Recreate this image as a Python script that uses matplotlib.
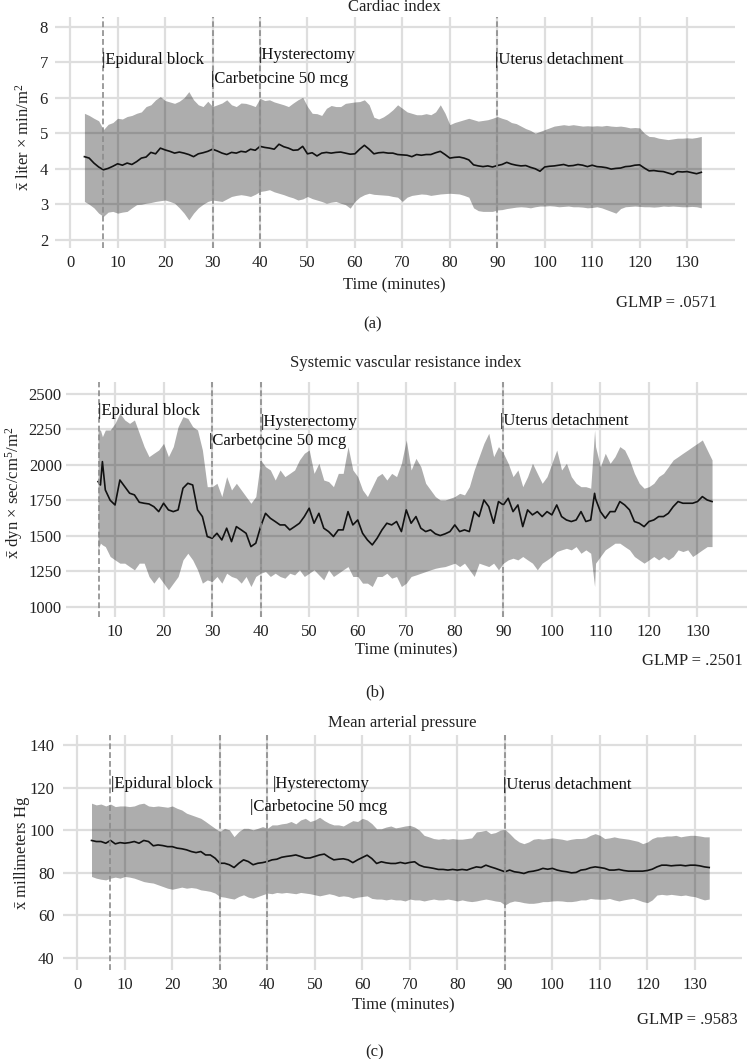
import numpy as np
import matplotlib
matplotlib.use("Agg")
import matplotlib.pyplot as plt

plt.rcParams['font.family'] = ['Liberation Serif', 'DejaVu Serif']
plt.rcParams['mathtext.fontset'] = 'custom'
plt.rcParams['mathtext.rm'] = 'Liberation Serif'
plt.rcParams['mathtext.it'] = 'Liberation Serif:italic'

# ---------------- data ----------------
# (a) cardiac index, one value per minute from 3 to 133
time_a = list(range(3, 134))
mean_a = [4.34, 4.30, 4.16, 4.05, 3.97, 4.01, 4.07, 4.14, 4.10, 4.16, 4.12, 4.20, 4.30, 4.33, 4.46, 4.42,
          4.58, 4.53, 4.49, 4.44, 4.47, 4.44, 4.40, 4.34, 4.42, 4.45, 4.49, 4.55, 4.50, 4.44, 4.40, 4.46,
          4.44, 4.49, 4.47, 4.55, 4.52, 4.63, 4.60, 4.58, 4.55, 4.69, 4.62, 4.58, 4.52, 4.53, 4.63, 4.42,
          4.45, 4.36, 4.44, 4.46, 4.44, 4.46, 4.47, 4.44, 4.41, 4.42, 4.55, 4.66, 4.55, 4.42, 4.45, 4.46,
          4.44, 4.44, 4.40, 4.39, 4.38, 4.34, 4.40, 4.38, 4.40, 4.40, 4.45, 4.49, 4.40, 4.30, 4.32, 4.33,
          4.30, 4.25, 4.11, 4.08, 4.06, 4.08, 4.05, 4.09, 4.12, 4.18, 4.13, 4.10, 4.08, 4.09, 4.04, 4.00,
          3.93, 4.05, 4.07, 4.08, 4.10, 4.12, 4.08, 4.09, 4.12, 4.10, 4.06, 4.10, 4.06, 4.05, 4.03, 3.99,
          4.01, 4.02, 4.06, 4.07, 4.10, 4.11, 4.02, 3.94, 3.95, 3.93, 3.92, 3.88, 3.84, 3.92, 3.91, 3.92,
          3.89, 3.86, 3.90]
upper_a = [5.56, 5.50, 5.42, 5.35, 5.10, 5.25, 5.30, 5.42, 5.40, 5.47, 5.50, 5.56, 5.60, 5.75, 5.80, 5.94,
           6.03, 5.92, 5.88, 5.84, 5.90, 6.00, 6.17, 5.94, 5.80, 5.75, 5.90, 5.75, 5.80, 5.85, 5.94, 5.80,
           5.75, 5.85, 5.84, 5.80, 5.75, 5.98, 5.92, 5.94, 5.88, 5.84, 5.80, 5.75, 5.85, 5.94, 6.01, 5.75,
           5.56, 5.55, 5.50, 5.70, 5.78, 5.75, 5.75, 5.84, 5.86, 5.88, 5.89, 5.94, 5.80, 5.45, 5.40, 5.46,
           5.55, 5.66, 5.80, 5.70, 5.60, 5.56, 5.52, 5.52, 5.55, 5.52, 5.60, 5.80, 5.56, 5.24, 5.30, 5.34,
           5.38, 5.42, 5.38, 5.34, 5.36, 5.38, 5.42, 5.47, 5.42, 5.38, 5.30, 5.27, 5.20, 5.13, 5.08, 5.00,
           5.05, 5.10, 5.15, 5.20, 5.22, 5.24, 5.22, 5.24, 5.22, 5.20, 5.21, 5.20, 5.21, 5.20, 5.22, 5.20,
           5.19, 5.20, 5.18, 5.15, 5.16, 5.15, 5.00, 4.91, 4.90, 4.86, 4.84, 4.82, 4.84, 4.86, 4.86, 4.87,
           4.86, 4.88, 4.91]
lower_a = [3.08, 3.00, 2.90, 2.75, 2.66, 2.78, 2.80, 2.75, 2.78, 2.80, 2.90, 2.99, 3.00, 3.03, 3.05, 3.08,
           3.10, 3.12, 3.08, 3.03, 2.90, 2.75, 2.56, 2.75, 2.90, 3.00, 3.08, 3.12, 3.10, 3.08, 3.15, 3.22,
           3.25, 3.27, 3.25, 3.22, 3.28, 3.36, 3.38, 3.41, 3.35, 3.31, 3.27, 3.22, 3.18, 3.12, 3.15, 3.22,
           3.16, 3.12, 3.08, 3.03, 3.06, 3.08, 3.03, 2.99, 2.89, 3.08, 3.20, 3.27, 3.31, 3.28, 3.27, 3.26,
           3.25, 3.22, 3.20, 3.08, 3.20, 3.25, 3.27, 3.29, 3.28, 3.25, 3.27, 3.29, 3.30, 3.31, 3.30, 3.29,
           3.25, 3.20, 2.90, 2.82, 2.80, 2.80, 2.80, 2.84, 2.85, 2.88, 2.90, 2.92, 2.93, 2.92, 2.90, 2.93,
           2.95, 2.95, 2.96, 2.95, 2.93, 2.94, 2.95, 2.93, 2.93, 2.92, 2.90, 2.91, 2.93, 2.90, 2.85, 2.80,
           2.75, 2.88, 2.93, 2.94, 2.95, 2.94, 2.93, 2.93, 2.92, 2.93, 2.95, 2.94, 2.95, 2.94, 2.93, 2.93,
           2.94, 2.93, 2.90]

# (b) systemic vascular resistance index
time_b = [6.5, 7.0, 7.4] + list(range(8, 109)) + [108.8] + list(range(109, 134))
mean_b = [1882, 1858, 2023, 1823, 1750, 1717, 1893, 1846, 1800, 1788, 1736, 1729, 1724, 1705, 1670, 1729,
          1682, 1670, 1682, 1835, 1870, 1858, 1682, 1635, 1494, 1482, 1517, 1470, 1553, 1458, 1564, 1541,
          1517, 1423, 1447, 1564, 1658, 1623, 1600, 1576, 1576, 1541, 1564, 1588, 1635, 1694, 1588, 1658,
          1553, 1529, 1494, 1541, 1541, 1670, 1576, 1611, 1517, 1470, 1435, 1482, 1541, 1588, 1576, 1600,
          1529, 1682, 1588, 1635, 1553, 1529, 1541, 1513, 1501, 1513, 1529, 1576, 1529, 1541, 1529, 1670,
          1635, 1752, 1705, 1588, 1741, 1717, 1764, 1670, 1717, 1564, 1682, 1647, 1670, 1635, 1670, 1647,
          1717, 1635, 1611, 1600, 1611, 1670, 1600, 1611, 1799, 1760, 1670, 1623, 1670, 1670, 1741, 1717,
          1682, 1600, 1588, 1564, 1600, 1611, 1635, 1635, 1658, 1705, 1741, 1729, 1729, 1729, 1741, 1776,
          1752, 1741]
upper_b = [2246, 2246, 2199, 2246, 2246, 2293, 2364, 2317, 2293, 2317, 2223, 2129, 2058, 2082, 2105, 2152,
           2058, 2129, 2270, 2340, 2328, 2270, 2246, 2105, 1846, 1846, 1870, 1776, 1917, 1823, 1870, 1823,
           1776, 1729, 1776, 2035, 1987, 1964, 1893, 1964, 1917, 1940, 1964, 2035, 2082, 2105, 1940, 2011,
           1893, 1882, 1846, 1940, 1940, 2129, 1964, 1917, 1823, 1776, 1846, 1917, 1940, 1893, 1940, 1917,
           2011, 2176, 1964, 2046, 1987, 1870, 1823, 1776, 1752, 1752, 1764, 1776, 1799, 1788, 1846, 1964,
           2058, 2152, 2223, 2058, 2129, 2082, 2011, 1917, 1964, 1846, 1917, 2011, 1940, 1870, 1917, 2011,
           2105, 1964, 2011, 1917, 1870, 1846, 1846, 1835, 2246, 2129, 1987, 2082, 2011, 2058, 2129, 2105,
           2035, 1940, 1870, 1835, 1846, 1870, 1917, 1940, 1987, 2035, 2058, 2082, 2105, 2129, 2152, 2176,
           2105, 2035]
lower_b = [1400, 1447, 1435, 1423, 1353, 1329, 1306, 1306, 1282, 1259, 1306, 1306, 1212, 1165, 1212, 1165,
           1118, 1165, 1212, 1329, 1376, 1329, 1259, 1165, 1188, 1176, 1212, 1165, 1235, 1212, 1200, 1165,
           1212, 1141, 1212, 1235, 1247, 1212, 1235, 1212, 1200, 1235, 1223, 1259, 1212, 1235, 1259, 1223,
           1188, 1259, 1212, 1235, 1259, 1282, 1212, 1212, 1165, 1165, 1141, 1212, 1212, 1235, 1200, 1212,
           1141, 1165, 1212, 1223, 1235, 1247, 1259, 1270, 1277, 1282, 1294, 1306, 1282, 1306, 1259, 1212,
           1306, 1294, 1282, 1306, 1259, 1306, 1329, 1341, 1329, 1353, 1329, 1306, 1259, 1306, 1329, 1353,
           1388, 1400, 1411, 1400, 1423, 1376, 1400, 1376, 1141, 1306, 1353, 1400, 1423, 1447, 1447, 1423,
           1400, 1353, 1329, 1306, 1329, 1353, 1329, 1353, 1329, 1353, 1400, 1388, 1400, 1353, 1376, 1400,
           1423, 1423]

# (c) mean arterial pressure, one value per minute from 3 to 133
time_c = list(range(3, 134))
mean_c = [95.2, 94.7, 94.7, 93.9, 95.2, 93.6, 94.2, 93.9, 94.2, 94.7, 93.9, 95.2, 94.7, 92.7, 93.1, 92.8,
          92.3, 92.3, 91.6, 91.3, 90.8, 90.0, 89.5, 90.0, 88.4, 88.4, 86.9, 84.5, 84.5, 83.8, 82.5, 84.5,
          86.1, 85.3, 83.8, 84.5, 84.8, 85.3, 86.1, 86.4, 87.3, 87.7, 88.0, 88.4, 87.7, 86.9, 87.0, 87.7,
          88.4, 88.8, 87.3, 86.1, 86.4, 86.6, 86.1, 84.8, 86.1, 87.2, 88.3, 86.7, 84.4, 85.2, 84.7, 84.4,
          84.4, 84.9, 84.4, 84.9, 85.2, 83.6, 82.8, 82.5, 82.1, 81.6, 81.6, 81.3, 81.6, 81.3, 81.6, 81.3,
          82.1, 82.8, 82.5, 83.6, 82.8, 82.1, 81.3, 80.5, 81.3, 80.5, 80.2, 79.7, 80.5, 80.8, 81.3, 82.1,
          81.7, 82.1, 81.3, 80.8, 80.5, 80.0, 80.2, 81.3, 81.6, 82.4, 82.8, 82.5, 82.1, 81.3, 81.3, 81.6,
          81.1, 80.8, 80.8, 80.8, 80.8, 81.1, 81.7, 82.8, 83.6, 83.6, 83.3, 83.5, 83.6, 83.3, 83.6, 83.6,
          83.3, 82.8, 82.5]
upper_c = [112.7, 111.9, 112.3, 111.4, 112.3, 111.1, 111.4, 111.4, 111.1, 111.4, 112.3, 112.7, 111.4, 111.1,
           111.4, 111.1, 110.8, 111.4, 110.3, 109.5, 108.0, 107.2, 106.4, 105.6, 104.1, 102.5, 100.9, 99.4,
           100.9, 100.2, 97.0, 99.4, 100.9, 100.9, 100.2, 100.9, 101.7, 100.9, 102.5, 102.5, 103.0, 103.3,
           104.1, 103.0, 104.8, 105.6, 104.1, 104.8, 106.1, 104.5, 103.3, 102.5, 102.5, 102.0, 103.3, 104.5,
           104.1, 105.6, 104.8, 103.1, 100.7, 100.7, 101.5, 102.0, 101.1, 101.5, 102.0, 102.3, 101.5, 100.0,
           97.6, 96.9, 96.1, 95.8, 96.1, 95.8, 96.1, 95.8, 95.8, 96.1, 96.4, 99.2, 99.5, 100.0, 98.4, 98.9,
           100.0, 100.4, 98.4, 96.1, 94.5, 93.7, 94.5, 95.8, 96.1, 95.8, 96.1, 96.4, 96.1, 95.8, 95.3, 95.8,
           96.1, 96.1, 96.4, 97.6, 98.4, 97.6, 96.1, 96.4, 96.9, 96.4, 96.1, 95.8, 95.3, 94.8, 93.7, 94.5,
           96.1, 96.9, 96.9, 97.3, 97.3, 97.6, 96.9, 97.3, 97.6, 97.6, 97.3, 96.9, 96.9]
lower_c = [78.3, 77.5, 77.0, 76.7, 77.5, 78.0, 77.5, 78.3, 78.0, 77.5, 76.7, 75.9, 75.5, 75.2, 74.4, 73.6,
           72.8, 72.3, 72.8, 73.3, 72.8, 73.1, 72.8, 72.0, 71.7, 71.3, 70.5, 68.9, 68.6, 68.1, 67.7, 68.9,
           69.7, 68.6, 68.1, 68.9, 69.7, 70.5, 70.2, 70.8, 70.5, 70.8, 70.5, 70.2, 70.8, 70.5, 70.2, 69.7,
           69.2, 69.7, 70.2, 69.7, 68.9, 69.2, 68.9, 68.1, 68.6, 68.9, 69.2, 68.0, 67.7, 67.7, 67.3, 67.7,
           67.3, 67.3, 66.8, 67.7, 67.3, 67.3, 66.8, 67.3, 67.7, 67.3, 67.3, 67.7, 67.3, 66.8, 67.3, 66.8,
           66.5, 66.8, 67.3, 67.7, 67.3, 66.8, 66.5, 64.9, 66.2, 66.8, 66.5, 66.0, 65.7, 65.7, 66.0, 66.5,
           66.5, 66.8, 66.9, 66.8, 66.5, 66.5, 66.8, 67.3, 67.3, 68.0, 67.7, 67.6, 67.6, 68.0, 67.3, 66.8,
           67.3, 67.7, 68.0, 67.3, 66.5, 66.0, 67.3, 69.6, 69.9, 69.6, 69.9, 69.6, 69.3, 69.6, 69.1, 68.8,
           68.0, 67.3, 67.7]

event_names = ["Epidural block", "Carbetocine 50 mcg", "Hysterectomy", "Uterus detachment"]
titles = ["Cardiac index", "Systemic vascular resistance index", "Mean arterial pressure"]
glmp = ["GLMP = .0571", "GLMP = .2501", "GLMP = .9583"]
panel_tags = ["(a)", "(b)", "(c)"]

# ---------------- layout (pixels of a 747x1059 picture) ----------------
W, H = 747, 1059
FS = 12
fig = plt.figure(figsize=(W / 100, H / 100), dpi=100)


def box(l, t, r, b):
    return [l / W, 1 - b / H, (r - l) / W, (b - t) / H]


def ftext(px, py, s, **kw):
    fig.text(px / W, 1 - py / H, s, fontsize=FS, **kw)


panels = [
    dict(t=time_a, m=mean_a, u=upper_a, lo=lower_a, box=(55, 17, 735, 248),
         xlim=(-3.2, 140.1), ylim=(1.77, 8.27), xt=range(0, 131, 10), yt=range(2, 9), ypad=5,
         lines=[7.0, 30, 40, 90],
         labels=[(6.6, 7.05), (29.6, 6.52), (39.7, 7.2), (89.6, 7.05)],
         ylab=r'$\bar{\mathrm{x}}$ liter × min/m$^2$', ylab_xy=(24, 137),
         title_xy=(394, 7), xlab_xy=(394, 285), glmp_xy=(717, 303), tag_xy=(373, 324)),
    dict(t=time_b, m=mean_b, u=upper_b, lo=lower_b, box=(66, 382, 747, 617),
         xlim=(-0.1, 140.2), ylim=(926, 2585), xt=range(10, 131, 10), yt=range(1000, 2501, 250), ypad=3,
         lines=[6.7, 30, 40, 90],
         labels=[(6.5, 2380), (29.3, 2169), (40.1, 2303), (89.4, 2310)],
         ylab=r'$\bar{\mathrm{x}}$ dyn × sec/cm$^5$/m$^2$', ylab_xy=(14, 493),
         title_xy=(406, 363), xlab_xy=(406, 650), glmp_xy=(743, 661), tag_xy=(375, 692)),
    dict(t=time_c, m=mean_c, u=upper_c, lo=lower_c, box=(63, 735, 742, 970),
         xlim=(-3.0, 139.9), ylim=(34.4, 144.7), xt=range(0, 131, 10), yt=range(40, 141, 20), ypad=6,
         lines=[6.9, 30, 40, 90],
         labels=[(7.2, 121.8), (36.4, 111.1), (41.2, 121.8), (89.6, 121.3)],
         ylab=r'$\bar{\mathrm{x}}$ millimeters Hg', ylab_xy=(22, 853),
         title_xy=(402, 723), xlab_xy=(403, 1005), glmp_xy=(738, 1020), tag_xy=(375, 1052)),
]

for i, p in enumerate(panels):
    ax = fig.add_axes(box(*p['box']))
    ax.set_xlim(*p['xlim'])
    ax.set_ylim(*p['ylim'])
    ax.set_xticks(list(p['xt']))
    ax.set_yticks(list(p['yt']))
    ax.grid(True, color='#dedede', lw=1.6, zorder=0)
    ax.set_axisbelow(True)
    for s in ax.spines.values():
        s.set_visible(False)
    ax.tick_params(length=0, labelsize=FS, colors='#222222')
    ax.tick_params(axis='x', pad=5)
    ax.tick_params(axis='y', pad=p['ypad'])

    ax.fill_between(p['t'], p['lo'], p['u'], color='black', alpha=0.32, lw=0, zorder=2)
    ax.plot(p['t'], p['m'], color='#111111', lw=1.2, zorder=3)

    for xv in p['lines']:
        ax.axvline(xv, color='#8c8c8c', lw=1.2, ls=(0, (3.5, 1.8)), zorder=4)
    for name, (lx, ly) in zip(event_names, p['labels']):
        ax.text(lx, ly, '|' + name, fontsize=FS, ha='left', va='center', color='#111111', zorder=5)

    ftext(*p['ylab_xy'], p['ylab'], rotation=90, ha='center', va='center', color='#222222')
    ftext(*p['title_xy'], titles[i], ha='center', va='center', color='#222222')
    ftext(*p['xlab_xy'], 'Time (minutes)', ha='center', va='center', color='#222222')
    ftext(*p['glmp_xy'], glmp[i], ha='right', va='center', color='#222222')
    ftext(*p['tag_xy'], panel_tags[i], ha='center', va='center', color='#222222')

fig.savefig('out.png', dpi=100)
